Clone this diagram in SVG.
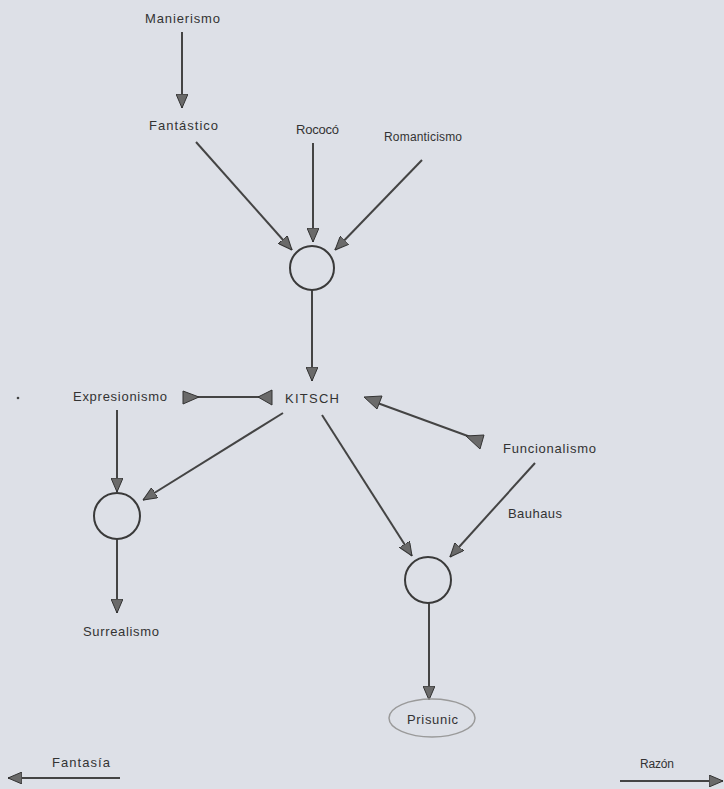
<svg xmlns="http://www.w3.org/2000/svg" width="724" height="789" viewBox="0 0 724 789">
<style>
.bg{fill:#dde0e7}
.t{font-family:"Liberation Sans",Arial,sans-serif;font-size:13px;fill:#333;text-anchor:start}
.s{font-size:12px}
.c{fill:none;stroke:#3a3a3a;stroke-width:2}
.l{stroke:#444;stroke-width:2;fill:none}
.h{fill:#6a6a6a;stroke:#333;stroke-width:1}
.e{fill:none;stroke:#9a9a9a;stroke-width:1.5}
</style>
<defs>
<marker id="ah" viewBox="0 0 14 12" markerUnits="userSpaceOnUse" markerWidth="14" markerHeight="12" refX="14" refY="6" orient="auto">
<path d="M0,0 L14,6 L0,12 Z" fill="#6a6a6a" stroke="#333" stroke-width="1"/>
</marker>
</defs>
<rect class="bg" x="0" y="0" width="724" height="789"/>
<g id="connectors">
<line class="l" x1="182" y1="32" x2="182" y2="108" marker-end="url(#ah)"/>
<line class="l" x1="196" y1="142" x2="292" y2="250" marker-end="url(#ah)"/>
<line class="l" x1="313" y1="143" x2="313" y2="242" marker-end="url(#ah)"/>
<line class="l" x1="422" y1="160" x2="335" y2="250" marker-end="url(#ah)"/>
<line class="l" x1="312" y1="290" x2="312" y2="381" marker-end="url(#ah)"/>
<line class="l" x1="283" y1="413" x2="143" y2="500" marker-end="url(#ah)"/>
<line class="l" x1="117" y1="410" x2="117" y2="492" marker-end="url(#ah)"/>
<line class="l" x1="117" y1="539" x2="117" y2="613" marker-end="url(#ah)"/>
<line class="l" x1="322" y1="415" x2="412" y2="556" marker-end="url(#ah)"/>
<line class="l" x1="535" y1="463" x2="450" y2="557" marker-end="url(#ah)"/>
<line class="l" x1="429" y1="603" x2="429" y2="700" marker-end="url(#ah)"/>
<line class="l" x1="120" y1="778" x2="8" y2="778" marker-end="url(#ah)"/>
<line class="l" x1="620" y1="781" x2="723" y2="781" marker-end="url(#ah)"/>
<line class="l" x1="190" y1="397" x2="266" y2="397"/>
<polygon class="h" points="183,391 183,404 199,397"/>
<polygon class="h" points="258,397 272,390 272,405"/>
<line class="l" x1="372" y1="401" x2="476" y2="439"/>
<polygon class="h" points="364,397 382,396 377,409"/>
<polygon class="h" points="466,436 484,435 480,449"/>
<circle cx="18" cy="398" r="1.3" fill="#444"/>
</g>
<g id="n-manierismo"><text class="t" x="145" y="23" textLength="75" lengthAdjust="spacing">Manierismo</text></g>
<g id="n-fantastico"><text class="t" x="149" y="130" textLength="69" lengthAdjust="spacing">Fantástico</text></g>
<g id="n-rococo"><text class="t" x="296" y="134" textLength="43" lengthAdjust="spacing">Rococó</text></g>
<g id="n-romanticismo"><text class="t s" x="384" y="141" textLength="78" lengthAdjust="spacing">Romanticismo</text></g>
<g id="n-circle1"><circle class="c" cx="312" cy="268" r="22"/></g>
<g id="n-kitsch"><text class="t" x="285" y="403" textLength="54" lengthAdjust="spacing">KITSCH</text></g>
<g id="n-expresionismo"><text class="t" x="73" y="401" textLength="94" lengthAdjust="spacing">Expresionismo</text></g>
<g id="n-funcionalismo"><text class="t" x="503" y="453" textLength="93" lengthAdjust="spacing">Funcionalismo</text></g>
<g id="n-bauhaus"><text class="t" x="508" y="518" textLength="54" lengthAdjust="spacing">Bauhaus</text></g>
<g id="n-circle2"><circle class="c" cx="117" cy="516" r="23"/></g>
<g id="n-circle3"><circle class="c" cx="428" cy="580" r="23"/></g>
<g id="n-surrealismo"><text class="t" x="83" y="636" textLength="76" lengthAdjust="spacing">Surrealismo</text></g>
<g id="n-prisunic"><ellipse class="e" cx="432" cy="718" rx="43" ry="19"/><text class="t" x="407" y="724" textLength="51" lengthAdjust="spacing">Prisunic</text></g>
<g id="n-fantasia"><text class="t" x="52" y="767" textLength="58" lengthAdjust="spacing">Fantasía</text></g>
<g id="n-razon"><text class="t s" x="640" y="768" textLength="34" lengthAdjust="spacing">Razón</text></g>
</svg>
